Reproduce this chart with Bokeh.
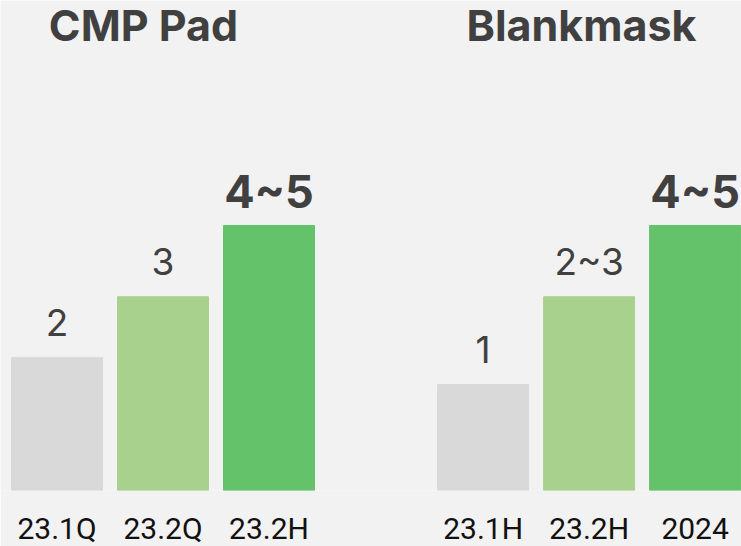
from bokeh.plotting import figure
from bokeh.models import ColumnDataSource, Range1d, FixedTicker, Label
from bokeh.core.properties import value
from bokeh.embed import file_html
from bokeh.resources import INLINE

# ---- data ----
cmp_title = "CMP Pad"
cmp_periods = ["23.1Q", "23.2Q", "23.2H"]
cmp_labels = ["2", "3", "4~5"]
cmp_heights = [2.26, 3.29, 4.5]

blank_title = "Blankmask"
blank_periods = ["23.1H", "23.2H", "2024"]
blank_labels = ["1", "2~3", "4~5"]
blank_heights = [1.8, 3.29, 4.5]

# ---- styles / layout ----
BG = "#f2f2f2"
BAR_COLORS = ["#d9d9d9", "#a9d18e", "#63c26a"]
LABEL_COLOR = "#404040"
FONT = "Inter"
LABEL_SIZES = ["37px", "37px", "45px"]
LABEL_STYLES = ["normal", "normal", "bold"]
LABEL_OFFSETS = [-35, -35, -34]
GROUP_SHIFT = 4.02      # distance between first bars of the two groups (in bar slots)
SLOT_PX = 106.0
BAR_WIDTH = 91 / 106.0
Y_MAX = 8.32
W, FH = 741, 490

xs, tops, texts, colors, sizes, styles, offs = [], [], [], [], [], [], []
ticks, overrides = [], {}
for g, (periods, labels, heights) in enumerate([(cmp_periods, cmp_labels, cmp_heights),
                                                (blank_periods, blank_labels, blank_heights)]):
    for i, (per, lab, h) in enumerate(zip(periods, labels, heights)):
        x = g * GROUP_SHIFT + i
        xs.append(x); tops.append(h); texts.append(lab)
        colors.append(BAR_COLORS[i]); sizes.append(LABEL_SIZES[i])
        styles.append(LABEL_STYLES[i]); offs.append(LABEL_OFFSETS[i])
        ticks.append(x); overrides[x] = per

x_start = -56.5 / SLOT_PX
p = figure(frame_width=W, frame_height=FH, output_backend="svg", toolbar_location=None,
           x_range=Range1d(x_start, x_start + W / SLOT_PX),
           y_range=Range1d(0, Y_MAX), y_axis_location=None,
           min_border_left=0, min_border_right=0, min_border_top=0, min_border_bottom=0)
p.background_fill_color = BG
p.border_fill_color = BG
p.outline_line_color = None
p.grid.visible = False

src = ColumnDataSource(dict(x=xs, top=tops, label=texts, color=colors,
                            size=sizes, style=styles, off=offs))
p.vbar(x="x", top="top", bottom=0, width=BAR_WIDTH, color="color", source=src)
p.text(x="x", y="top", text="label", source=src, text_align="center",
       text_baseline="alphabetic", y_offset="off", text_font=value(FONT),
       text_font_size="size", text_font_style="style", text_color=LABEL_COLOR)

ax = p.xaxis[0]
ax.ticker = FixedTicker(ticks=ticks)
ax.major_label_overrides = overrides
ax.axis_line_color = None
ax.major_tick_line_color = None
ax.minor_tick_line_color = None
ax.major_tick_in = 0
ax.major_tick_out = 0
ax.major_label_standoff = 20
ax.major_label_text_font = "Roboto"
ax.major_label_text_font_size = "30px"
ax.major_label_text_color = "#111111"

for title, cx in [(cmp_title, 143), (blank_title, 581)]:
    p.add_layout(Label(x=cx, y=466, x_units="screen", y_units="screen", text=title,
                       text_align="center", text_baseline="alphabetic",
                       text_font=FONT, text_font_style="bold", text_font_size="43px",
                       text_color=LABEL_COLOR))

html = file_html(p, INLINE)
html = html.replace("<body>", '<body style="background-color:#f2f2f2;">', 1)
open("out.html", "w").write(html)
